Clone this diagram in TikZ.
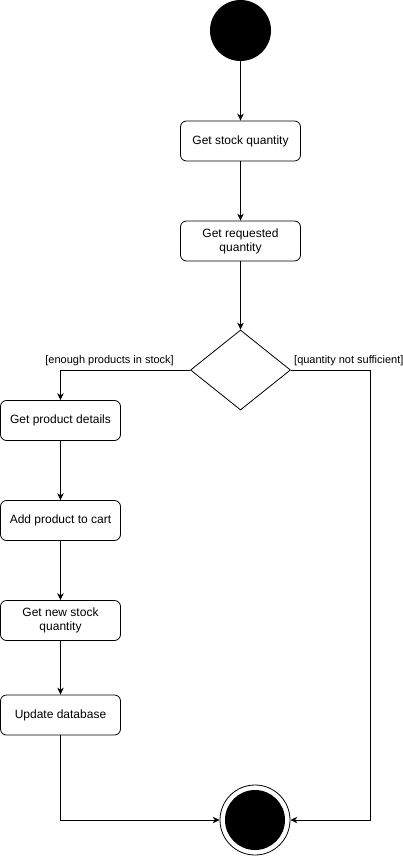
\documentclass[tikz,border=0pt]{standalone}
\usepackage{fontspec}
\setmainfont{Liberation Sans}
\usetikzlibrary{arrows.meta,shapes.geometric}
\begin{document}
\begin{tikzpicture}[x=1pt,y=-1pt,
  act/.style={draw,rounded corners=6pt,minimum width=120pt,minimum height=40pt,inner sep=0pt,align=center,font=\fontsize{12}{14}\selectfont,line width=0.8pt},
  flow/.style={-{Stealth[length=7pt,width=6.5pt]},line width=0.8pt},
  lbl/.style={font=\fontsize{11}{13}\selectfont,inner sep=0pt}]
\useasboundingbox (0,0) rectangle (403,856);
\node[circle,fill=black,minimum size=61pt,inner sep=0pt] (start) at (240.5,30.5) {};
\node[act] (s1) at (240.5,141) {Get stock quantity};
\node[act] (s2) at (240.5,241) {Get requested\\quantity};
\node[draw,diamond,line width=0.8pt,inner sep=0pt,minimum width=100pt,minimum height=80pt,shape aspect=1.25] (dec) at (240.5,370) {};
\node[act] (d1) at (60.5,420.5) {Get product details};
\node[act] (d2) at (60.5,520.5) {Add product to cart};
\node[act] (d3) at (60.5,620.5) {Get new stock\\quantity};
\node[act] (d4) at (60.5,715) {Update database};
\node[circle,draw,line width=0.8pt,fill=white,minimum size=70pt,inner sep=0pt] (end) at (255,820) {};
\node[circle,fill=black,minimum size=60pt,inner sep=0pt] (endin) at (end) {};
\coordinate (rc) at (370.5,370);
\node[lbl,anchor=east] (l1) at (174,361) {[enough products in stock]};
\node[lbl,anchor=west] (l2) at (294,361) {[quantity not sufficient]};
\draw[flow] (start) -- (s1);
\draw[flow] (s1) -- (s2);
\draw[flow] (s2) -- (dec);
\draw[flow] (dec.west) -| (d1.north);
\draw[flow] (d1) -- (d2);
\draw[flow] (d2) -- (d3);
\draw[flow] (d3) -- (d4);
\draw[flow] (d4.south) |- (end.west);
\draw[flow] (dec.east) -- (rc) |- (end.east);
\end{tikzpicture}
\end{document}
